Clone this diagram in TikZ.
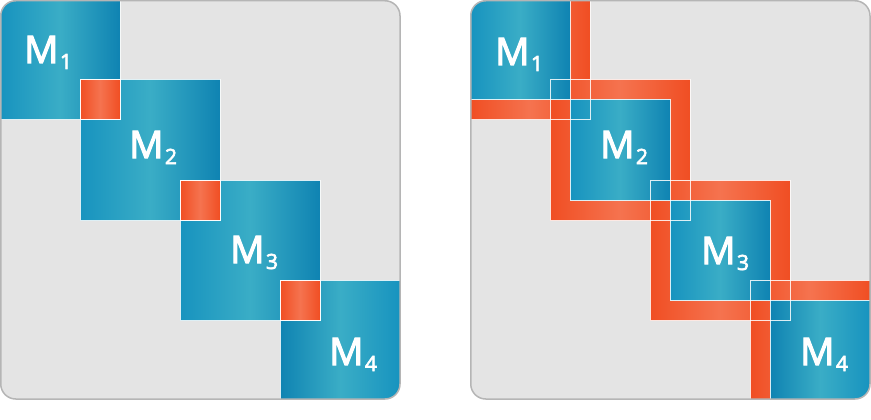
\documentclass[tikz,border=0pt]{standalone}
\usepackage{fontspec}
\newfontfamily\lblfont{Open Sans}[FakeBold=3]
\usetikzlibrary{positioning}

\definecolor{panelgray}{HTML}{E4E4E4}
\definecolor{panelline}{HTML}{B5B5B5}
\definecolor{blueedge}{HTML}{1793BF}
\definecolor{bluemid}{HTML}{3AADC6}
\definecolor{bluedark}{HTML}{0F83B2}
\definecolor{redge}{HTML}{F04E23}
\definecolor{redmid}{HTML}{F5734F}

\newcommand{\msub}[1]{\kern1.5pt\raisebox{-6pt}{\fontsize{21}{21}\selectfont #1}}

\tikzset{
  panel/.style={draw=panelline,line width=1.5pt,rounded corners=15pt},
  blueblock/.style={left color=blueedge,right color=bluedark,middle color=bluemid},
  blueflip/.style={left color=bluedark,right color=blueedge,middle color=bluemid},
  redblock/.style={left color=redge,right color=redge,middle color=redmid},
  whiteline/.style={draw=white,line width=1pt,opacity=0.85},
  lbl/.style={anchor=base west,inner sep=0pt,text=white,font=\lblfont\fontsize{38}{38}\selectfont},
}

\begin{document}
\begin{tikzpicture}[x=1pt,y=-1pt]
	\useasboundingbox (0,0) rectangle (871,420);

	% left panel: blocks with orange overlaps
	\fill[panelgray,rounded corners=15pt] (0.75,0.75) rectangle (400,399);
	\begin{scope}
		\clip[rounded corners=15pt] (0.75,0.75) rectangle (400,399);
		\foreach \a/\b/\sty in {0/120/blueblock,80/220/blueblock,180/320/blueblock,280/400/blueflip}
			\shade[\sty] (\a,\a) rectangle (\b,\b);
		\foreach \a in {80,180,280}
			\shade[redblock] (\a,\a) rectangle (\a+40,\a+40);
		\foreach \a in {-20,80,180,280}
			\draw[whiteline] (\a,\a) rectangle (\a+140,\a+140);
		\foreach \a in {80,180,280}
			\draw[whiteline] (\a,\a) rectangle (\a+40,\a+40);
	\end{scope}
	\draw[panel] (0.75,0.75) rectangle (400,399);

	\foreach \i/\x/\y in {1/24/63,2/129/158,3/230/263,4/329/365}
		\node[lbl] (mL\i) at (\x,\y) {M\msub{\i}};

	% right panel: blocks with orange frames
	\begin{scope}[xshift=470pt]
		\fill[panelgray,rounded corners=15pt] (0.75,0.75) rectangle (400,399);
		\begin{scope}
			\clip[rounded corners=15pt] (0.75,0.75) rectangle (400,399);
			\foreach \a/\b in {0/120,80/220,180/320,280/400}
				\shade[redblock] (\a,\a) rectangle (\b,\b);
			\foreach \a/\sty in {0/blueblock,100/blueblock,200/blueblock,300/blueflip}
				\shade[\sty] (\a,\a) rectangle (\a+100,\a+100);
			\foreach \a in {-20,80,180,280}
				\draw[whiteline] (\a,\a) rectangle (\a+140,\a+140);
			\foreach \a in {0,100,200,300}
				\draw[whiteline] (\a,\a) rectangle (\a+100,\a+100);
		\end{scope}
		\draw[panel] (0.75,0.75) rectangle (400,399);

		\foreach \i/\x/\y in {1/25/65,2/130/158,3/231/264,4/330/365}
			\node[lbl] (mR\i) at (\x,\y) {M\msub{\i}};
	\end{scope}
\end{tikzpicture}
\end{document}
